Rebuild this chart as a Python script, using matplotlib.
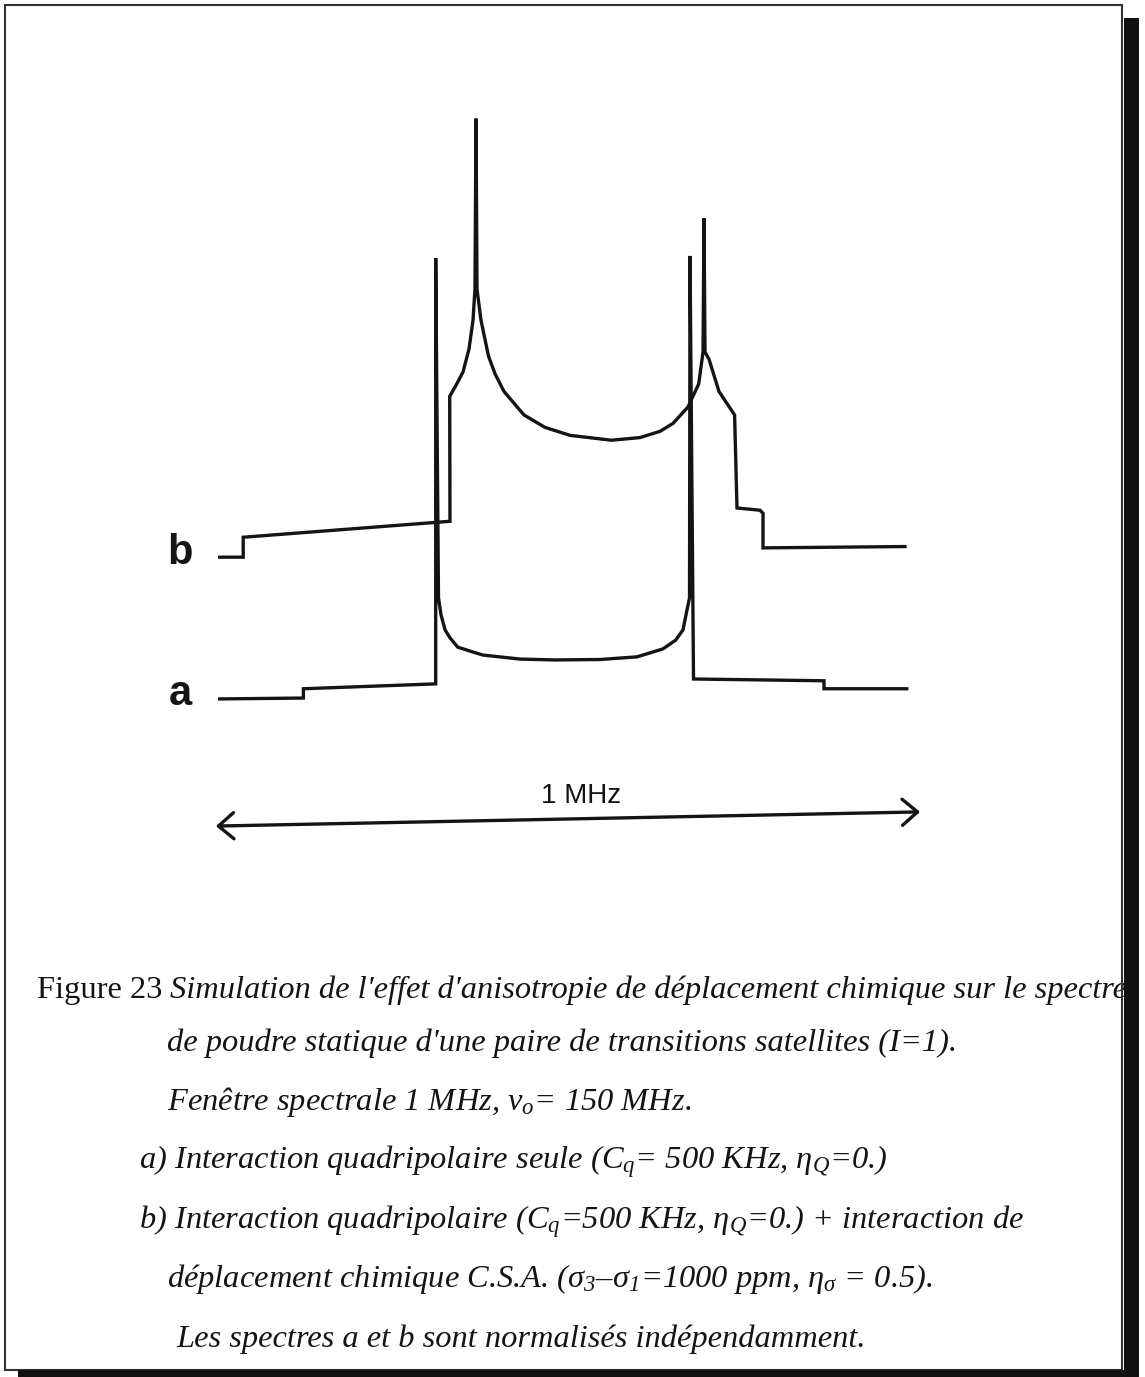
import numpy as np
import matplotlib.pyplot as plt
from matplotlib.patches import Rectangle

plt.rcParams['mathtext.fontset'] = 'custom'
plt.rcParams['mathtext.rm'] = 'Liberation Serif:italic'
plt.rcParams['mathtext.it'] = 'Liberation Serif:italic'
plt.rcParams['mathtext.bf'] = 'Liberation Serif:bold'

# fenêtre spectrale en kHz
fenetre = 1000

# spectre a : interaction quadripolaire seule (frequence kHz, intensite normalisee)
freq_a = [-500, -378, -378, -189, -189, -185, -181.4, -175.7, -168.6, -157.6, -140,
          -121.4, -68.6, -18.6, 45.7, 98.6, 135.7, 154, 164.3, 168.6, 173.6, 174.3,
          179.3, 365.7, 365.7, 484]
int_a = [0, 0.2, 2.3, 3.4, 99.5, 22.8, 19, 15.6, 13.8, 11.7, 10.8,
         9.9, 9.0, 8.8, 8.9, 9.5, 11.3, 13.3, 15.6, 19, 22.8, 100,
         4.5, 4.1, 2.3, 2.3]

# spectre b : quadripolaire + anisotropie de deplacement chimique
freq_b = [-500, -464, -464, -168.6, -169, -160, -150, -141.4, -135.7, -132.9, -131.4,
          -130, -124.3, -113.6, -104, -91.4, -62.9, -32.9, 2.9, 62, 102.9,
          131.4, 150, 171.4, 186.7, 192.9, 194.3, 195.7, 201.4, 215.7, 238,
          241.4, 274.3, 278.6, 278.6, 481.4]
int_b = [0, 0, 4.5, 8.1, 36.3, 38.8, 41.8, 47, 53.5, 60.5, 99,
         60.5, 53.5, 45.4, 41.3, 37.4, 32.1, 29.3, 27.5, 26.4, 27,
         28.4, 30.2, 33.9, 39.1, 46.3, 76.5, 46.3, 44.7, 37.4, 32.1,
         11.1, 10.6, 9.9, 2.1, 2.4]
decalage_b = 32

legende = [
    "de poudre statique d'une paire de transitions satellites (I=1).",
    "Fenêtre spectrale 1 MHz, $\\nu_o$= 150 MHz.",
    "a) Interaction quadripolaire seule ($C_q$= 500 KHz, $\\eta_Q$=0.)",
    "b) Interaction quadripolaire ($C_q$=500 KHz, $\\eta_Q$=0.) + interaction de",
    "déplacement chimique C.S.A. ($\\sigma_3$–$\\sigma_1$=1000 ppm, $\\eta_\\sigma$ = 0.5).",
    "Les spectres a et b sont normalisés indépendamment.",
]
legende_x = [167, 167, 139, 139, 167, 176]
legende_y = [1051, 1110, 1168, 1228, 1287, 1347]

W, H = 1145, 1377
encre = '#141414'
taille = 23.4

fig = plt.figure(figsize=(W / 100, H / 100), dpi=100)

ax = fig.add_axes([218 / W, 1 - 850 / H, 700 / W, 750 / H])
ax.set_xlim(-fenetre / 2, fenetre / 2)
ax.set_ylim(-34.1, 135.2)
ax.axis('off')

ax.plot(freq_a, int_a, color=encre, lw=2.4, solid_joinstyle='miter')
ax.plot(freq_b, np.array(int_b) + decalage_b, color=encre, lw=2.4,
        solid_joinstyle='miter')

ax.text(-554, 30.5, 'b', fontsize=30, fontweight='bold', family='Liberation Sans',
        ha='center', va='baseline', color=encre, clip_on=False)
ax.text(-554, -1.35, 'a', fontsize=30, fontweight='bold', family='Liberation Sans',
        ha='center', va='baseline', color=encre, clip_on=False)

# barre d'echelle : 1 MHz
ax.annotate('', xy=(fenetre / 2 + 3, -25.5), xytext=(-fenetre / 2 - 3, -28.7),
            arrowprops=dict(arrowstyle='<->,head_length=0.55,head_width=0.47',
                            mutation_scale=20, lw=2.4, color=encre,
                            shrinkA=0, shrinkB=0),
            annotation_clip=False)
ax.text(18.6, -23.5, '1 MHz', fontsize=20, family='Liberation Sans',
        ha='center', va='baseline', color=encre)

# legende de la figure
t1 = fig.text(37 / W, 1 - 998 / H, 'Figure 23 ', fontsize=taille,
              family='Liberation Serif', va='baseline', color=encre)
ax.annotate("Simulation de l'effet d'anisotropie de déplacement chimique sur le spectre",
            xy=(1, 0), xycoords=t1, va='bottom', ha='left', fontsize=taille,
            family='Liberation Serif', style='italic', color=encre,
            annotation_clip=False)
for txt, px, py in zip(legende, legende_x, legende_y):
    fig.text(px / W, 1 - py / H, txt, fontsize=taille, family='Liberation Serif',
             style='italic', va='baseline', color=encre)

# cadre et ombre
fig.add_artist(Rectangle((5 / W, 1 - 1370 / H), 1117 / W, 1365 / H,
                         transform=fig.transFigure, fill=False, lw=1.5, ec='#333333'))
fig.add_artist(Rectangle((1124 / W, 0), 15 / W, (H - 18) / H,
                         transform=fig.transFigure, fc='#111111', ec='none'))
fig.add_artist(Rectangle((18 / W, 0), 1121 / W, 7 / H,
                         transform=fig.transFigure, fc='#111111', ec='none'))

fig.savefig('out.png', dpi=100)
